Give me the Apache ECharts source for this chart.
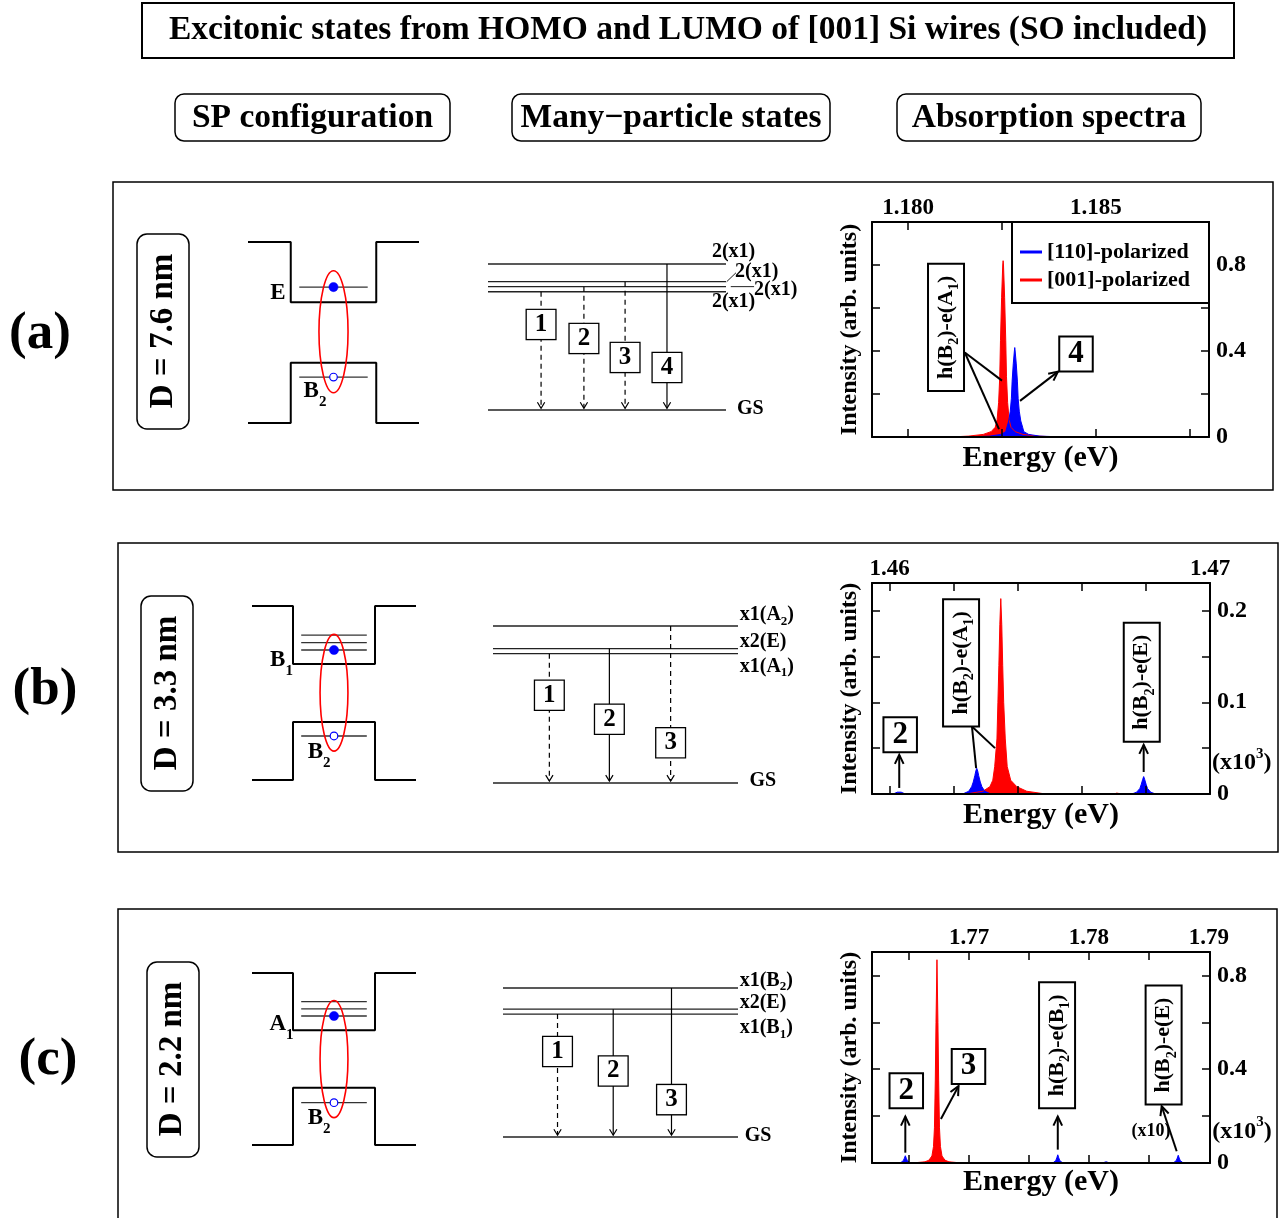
<!DOCTYPE html>
<html>
<head>
<meta charset="utf-8">
<title>Excitonic states from HOMO and LUMO of [001] Si wires</title>
<script src="https://cdn.jsdelivr.net/npm/echarts@6.0.0/dist/echarts.min.js"></script>
<style>
html,body{margin:0;padding:0;background:#fff;}
#chart{width:1288px;height:1218px;}
</style>
</head>
<body>
<div id="chart"></div>
<script>
// ===================== DATA =====================
// Absorption spectra: [energy (eV), intensity (arb. units)]
const specA_red = [[1.17904,0],[1.18112,0],[1.18160,0.004],[1.18200,0.012],[1.18221,0.025],[1.18232,0.045],[1.18237,0.08],[1.18241,0.16],[1.18244,0.28],[1.18246,0.45],[1.18249,0.65],[1.18252,0.80],[1.18253,0.82],[1.18254,0.80],[1.18257,0.65],[1.18260,0.45],[1.18262,0.28],[1.18265,0.16],[1.18269,0.08],[1.18274,0.045],[1.18285,0.025],[1.18306,0.012],[1.18346,0.004],[1.18399,0],[1.18801,0]];
const specA_blue = [[1.17904,0],[1.18164,0],[1.18217,0.004],[1.18247,0.012],[1.18260,0.025],[1.18263,0.045],[1.18268,0.075],[1.18272,0.12],[1.18275,0.18],[1.18277,0.26],[1.18280,0.34],[1.18283,0.40],[1.18284,0.416],[1.18285,0.40],[1.18288,0.34],[1.18291,0.26],[1.18293,0.18],[1.18296,0.12],[1.18300,0.075],[1.18305,0.045],[1.18308,0.025],[1.18321,0.012],[1.18351,0.004],[1.18417,0],[1.18801,0]];
const specB_red = [[1.45945,0],[1.46238,0],[1.46291,0.003],[1.46313,0.008],[1.46322,0.015],[1.46328,0.03],[1.46335,0.06],[1.46338,0.1],[1.46341,0.14],[1.46344,0.185],[1.46347,0.213],[1.46350,0.185],[1.46353,0.14],[1.46356,0.1],[1.46361,0.06],[1.46367,0.03],[1.46378,0.015],[1.46397,0.008],[1.46428,0.003],[1.46487,0],[1.46700,0],[1.46709,0.001],[1.46712,0.002],[1.46715,0.001],[1.46724,0],[1.47,0]];
const specB_blue = [[1.45945,0],[1.46011,0],[1.46024,0.002],[1.46030,0.0036],[1.46036,0.002],[1.46049,0],[1.46228,0],[1.46247,0.003],[1.46256,0.008],[1.46261,0.013],[1.46266,0.02],[1.46269,0.025],[1.46272,0.028],[1.46275,0.025],[1.46278,0.02],[1.46283,0.013],[1.46288,0.008],[1.46297,0.003],[1.46316,0],[1.46756,0],[1.46771,0.002],[1.46781,0.006],[1.46785,0.01],[1.46790,0.016],[1.46793,0.019],[1.46796,0.016],[1.46801,0.01],[1.46805,0.006],[1.46815,0.002],[1.46830,0],[1.47,0]];
const specC_red = [[1.7619,0],[1.76524,0],[1.76632,0.005],[1.76665,0.012],[1.76690,0.03],[1.76703,0.07],[1.76711,0.15],[1.76718,0.35],[1.76724,0.6],[1.76732,0.867],[1.76740,0.6],[1.76746,0.35],[1.76753,0.15],[1.76761,0.07],[1.76774,0.03],[1.76799,0.012],[1.76832,0.005],[1.76940,0],[1.7901,0]];
const specC_blue = [[1.7619,0],[1.76426,0],[1.76451,0.01],[1.76460,0.02],[1.76468,0.031],[1.76476,0.02],[1.76485,0.01],[1.76510,0],[1.77698,0],[1.77723,0.01],[1.77732,0.022],[1.7774,0.035],[1.77748,0.022],[1.77757,0.01],[1.77782,0],[1.78110,0],[1.78143,0.005],[1.78176,0],[1.78703,0],[1.78728,0.01],[1.78737,0.021],[1.78745,0.033],[1.78753,0.021],[1.78762,0.01],[1.78787,0],[1.7901,0]];

// Axis ranges, ticks and tick labels
const xRangeA = [1.17904, 1.18801], yRangeA = [0, 1.0];
const xTicksA = [1.18, 1.1825, 1.185, 1.1875], xLabelsA = [1.18, 1.185];
const yTicksA = [0.2, 0.4, 0.6, 0.8], yLabelsA = [0, 0.4, 0.8];
const xRangeB = [1.45945, 1.47], yRangeB = [0, 0.23];
const xTicksB = [1.46, 1.462, 1.464, 1.466, 1.468], xLabelsB = [1.46, 1.47];
const yTicksB = [0.05, 0.1, 0.15, 0.2], yLabelsB = [0, 0.1, 0.2];
const xRangeC = [1.7619, 1.7901], yRangeC = [0, 0.9];
const xTicksC = [1.765, 1.77, 1.775, 1.78, 1.785], xLabelsC = [1.77, 1.78, 1.79];
const yTicksC = [0.2, 0.4, 0.6, 0.8], yLabelsC = [0, 0.4, 0.8];

// Spectrum annotations in data coordinates
const annBoxesA = [[1.18101, 0.51, 'h(B_2)-e(A_1)', 90], [1.18447, 0.386, '4', 0]];
const annLinesA = [[1.18151, 0.393, 1.18250, 0.262], [1.18151, 0.393, 1.18242, 0.037]];
const annArrowsA = [[1.18298, 0.168, 1.18399, 0.304]];
const annTextsA = [];
const annBoxesB = [[1.46033, 0.0645, '2', 0], [1.46223, 0.143, 'h(B_2)-e(A_1)', 90], [1.46787, 0.1219, 'h(B_2)-e(E)', 90]];
const annLinesB = [[1.46257, 0.0736, 1.46270, 0.0281], [1.46257, 0.0736, 1.46329, 0.050]];
const annArrowsB = [[1.46030, 0.0066, 1.46030, 0.0426], [1.46793, 0.024, 1.46793, 0.0536]];
const annTextsB = [[1.47099, 0.0339, '(x10^3)']];
const annBoxesC = [[1.76476, 0.308, '2', 0], [1.76995, 0.412, '3', 0], [1.77734, 0.502, 'h(B_2)-e(B_1)', 90], [1.78623, 0.503, 'h(B_2)-e(E)', 90]];
const annLinesC = [];
const annArrowsC = [[1.76468, 0.044, 1.76468, 0.198], [1.76765, 0.188, 1.76912, 0.328], [1.7774, 0.057, 1.7774, 0.198], [1.78732, 0.050, 1.78607, 0.242]];
const annTextsC = [[1.78518, 0.135, '(x10)'], [1.79276, 0.135, '(x10^3)']];

// SP configuration (schematic, normalised energy 0..1)
const wellCB = [[0, 1], [0.25, 1], [0.25, 0.667], [0.75, 0.667], [0.75, 1], [1, 1]];
const wellVB = [[0, 0], [0.25, 0], [0.25, 0.333], [0.75, 0.333], [0.75, 0], [1, 0]];
const spCB_A = [0.751], spVB_A = [0.254], spNames_A = ['E', 'B_2'], spNamePos_A = [[0.175, 0.718], [0.392, 0.177]];
const spCB_B = [0.833, 0.789, 0.747], spVB_B = [0.253], spNames_B = ['B_1', 'B_2'], spNamePos_B = [[0.180, 0.690], [0.409, 0.161]];
const spCB_C = [0.833, 0.791, 0.750], spVB_C = [0.246], spNames_C = ['A_1', 'B_2'], spNamePos_C = [[0.180, 0.703], [0.409, 0.157]];

// Many-particle states (schematic, GS = 0, highest state = 1)
const mpLevelsA = [1, 0.879, 0.845, 0.810];
const mpLabelsA = ['2(x1)', '2(x1)', '2(x1)', '2(x1)'];
const mpLabelPosA = [[0.941, 1.084], [1.038, 0.947], [1.118, 0.822], [0.941, 0.740]];
const mpConnA = [[[1.003, 0.879], [1.042, 0.940]], [[1.020, 0.845], [1.118, 0.845]]];
const mpTransXA = [0.223, 0.403, 0.576, 0.752], mpTransFromA = [3, 2, 1, 0], mpDarkA = [1, 1, 1, 0];
const mpBoxYA = [0.586, 0.490, 0.360, 0.291], mpGSPosA = [1.046, 0.007];

const mpLevelsB = [1, 0.856, 0.824];
const mpLabelsB = ['x1(A_2)', 'x2(E)', 'x1(A_1)'];
const mpLabelPosB = [[1.007, 1.068], [1.007, 0.896], [1.007, 0.739]];
const mpConnB = [];
const mpTransXB = [0.230, 0.475, 0.725], mpTransFromB = [2, 1, 0], mpDarkB = [1, 0, 1];
const mpBoxYB = [0.559, 0.406, 0.256], mpGSPosB = [1.047, 0.017];

const mpLevelsC = [1, 0.858, 0.825];
const mpLabelsC = ['x1(B_2)', 'x2(E)', 'x1(B_1)'];
const mpLabelPosC = [[1.007, 1.051], [1.007, 0.899], [1.007, 0.730]];
const mpConnC = [];
const mpTransXC = [0.232, 0.469, 0.717], mpTransFromC = [2, 1, 0], mpDarkC = [1, 0, 0];
const mpBoxYC = [0.574, 0.443, 0.251], mpGSPosC = [1.029, 0.005];

// ===================== RENDERING =====================
const FONT = '"Liberation Serif","Times New Roman",Times,serif';
const RED = '#ff0000', BLUE = '#0000ff';

function toRich(s) {
  let out = '';
  const re = /_(.)|\^(.)|([^_^]+)/g; let m;
  while ((m = re.exec(s))) {
    if (m[1] !== undefined) out += '{s|' + m[1] + '}';
    else if (m[2] !== undefined) out += '{p|' + m[2] + '}';
    else out += '{m|' + m[3] + '}';
  }
  return out;
}
function richStyles(fs, subK) {
  const base = {fontFamily: FONT, fontWeight: 'bold', fill: '#000'};
  const ss = Math.round(fs * 0.64);
  return {
    m: Object.assign({}, base, {fontSize: fs, lineHeight: fs}),
    s: Object.assign({}, base, {fontSize: ss, lineHeight: fs, padding: [Math.round(fs * (subK || 0.7)), 0, 0, 0]}),
    p: Object.assign({}, base, {fontSize: ss, lineHeight: fs, padding: [0, 0, Math.round(fs * 0.75), 0]})
  };
}

function textEl(px, py, it) {
  const st = {
    text: toRich(it.t), rich: richStyles(it.fs, it.subK), x: 0, y: 0,
    align: it.align || 'center', textAlign: it.align || 'center',
    verticalAlign: 'middle', textVerticalAlign: 'middle'
  };
  if (it.box) {
    st.backgroundColor = '#fff'; st.borderColor = '#000'; st.borderWidth = it.bw || 2; st.padding = it.pad;
  }
  return {type: 'text', x: px, y: py, rotation: (it.rot || 0) * Math.PI / 180, style: st, z2: 10};
}

function renderer(items) {
  return function (params, api) {
    const it = items[params.dataIndex];
    const c = p => api.coord(p);
    if (it.k === 'poly') {
      const st = {stroke: it.color || '#000', lineWidth: it.w || 1.5, fill: 'none'};
      if (it.dash) st.lineDash = [5, 4];
      return {type: 'polyline', shape: {points: it.p.map(c)}, style: st};
    }
    if (it.k === 'arrow') {
      const a = c(it.p[0]), b = c(it.p[1]);
      const ang = Math.atan2(b[1] - a[1], b[0] - a[0]);
      const L = it.head || 10, W = it.hw || 0.5;
      const h1 = [b[0] - L * Math.cos(ang - W), b[1] - L * Math.sin(ang - W)];
      const h2 = [b[0] - L * Math.cos(ang + W), b[1] - L * Math.sin(ang + W)];
      const ls = {stroke: '#000', lineWidth: it.w || 2};
      if (it.dash) ls.lineDash = [5, 4];
      return {type: 'group', children: [
        {type: 'line', shape: {x1: a[0], y1: a[1], x2: b[0], y2: b[1]}, style: ls},
        {type: 'polyline', shape: {points: [h1, b, h2]}, style: {stroke: '#000', lineWidth: it.w || 2, fill: 'none'}}
      ]};
    }
    if (it.k === 'text') {
      const p = c(it.at);
      return textEl(p[0], p[1], it);
    }
    if (it.k === 'ellipse') {
      const a = c(it.p[0]), b = c(it.p[1]);
      return {type: 'ellipse', shape: {cx: (a[0] + b[0]) / 2, cy: (a[1] + b[1]) / 2, rx: Math.abs(b[0] - a[0]) / 2, ry: Math.abs(b[1] - a[1]) / 2},
        style: {stroke: RED, lineWidth: 1.6, fill: 'none'}};
    }
    if (it.k === 'dot') {
      const p = c(it.at);
      return {type: 'circle', shape: {cx: p[0], cy: p[1], r: 4.6}, style: {fill: BLUE, stroke: BLUE, lineWidth: 0.5}};
    }
    if (it.k === 'hole') {
      const p = c(it.at);
      return {type: 'circle', shape: {cx: p[0], cy: p[1], r: 3.8}, style: {fill: '#fff', stroke: BLUE, lineWidth: 1.2}};
    }
    return null;
  };
}

function customSeries(xi, yi, items) {
  return {
    type: 'custom', coordinateSystem: 'cartesian2d', xAxisIndex: xi, yAxisIndex: yi,
    clip: false, silent: true, animation: false, z: 12,
    data: items.map(it => (it.p ? it.p[0] : it.at).slice()),
    renderItem: renderer(items)
  };
}

const grids = [], xAxes = [], yAxes = [], series = [];
function hiddenGrid(rect) {
  grids.push(Object.assign({containLabel: false, outerBoundsMode: 'none'}, rect));
  const gi = grids.length - 1;
  xAxes.push({type: 'value', gridIndex: gi, min: 0, max: 1, show: false});
  yAxes.push({type: 'value', gridIndex: gi, min: 0, max: 1, show: false});
  return [xAxes.length - 1, yAxes.length - 1];
}

function spPanel(rect, cb, vb, names, namePos) {
  const [xi, yi] = hiddenGrid(rect);
  [wellCB, wellVB].forEach(w => series.push({
    type: 'line', xAxisIndex: xi, yAxisIndex: yi, data: w, symbol: 'none', silent: true,
    lineStyle: {color: '#000', width: 2}, z: 5, clip: false
  }));
  const items = [];
  cb.concat(vb).forEach(y => items.push({k: 'poly', p: [[0.3, y], [0.7, y]], w: 1.3, color: '#333'}));
  const e = Math.min.apply(null, cb), h = Math.max.apply(null, vb);
  items.push({k: 'ellipse', p: [[0.415, h - 0.087], [0.585, e + 0.09]]});
  items.push({k: 'dot', at: [0.5, e]});
  items.push({k: 'hole', at: [0.5, h]});
  names.forEach((t, i) => items.push({k: 'text', at: namePos[i], t: t, fs: 23, subK: 0.95}));
  series.push(customSeries(xi, yi, items));
}

function mpPanel(rect, levels, labels, labelPos, conns, trX, trFrom, dark, boxY, gsPos) {
  const [xi, yi] = hiddenGrid(rect);
  const items = [];
  items.push({k: 'poly', p: [[0, 0], [1, 0]], w: 1.5, color: '#222'});
  levels.forEach(y => items.push({k: 'poly', p: [[0, y], [1, y]], w: 1.4, color: '#222'}));
  conns.forEach(cn => items.push({k: 'poly', p: cn, w: 1, color: '#222'}));
  trX.forEach((x, i) => items.push({k: 'arrow', p: [[x, levels[trFrom[i]]], [x, 0.012]], dash: !!dark[i], w: 1.2, head: 7, hw: 0.55}));
  trX.forEach((x, i) => items.push({k: 'text', at: [x, boxY[i]], t: String(i + 1), fs: 25, box: true, bw: 1.3, pad: [2, 8]}));
  labels.forEach((t, i) => items.push({k: 'text', at: labelPos[i], t: t, fs: 20, subK: 0.6, align: 'left'}));
  items.push({k: 'text', at: gsPos, t: 'GS', fs: 20, align: 'left'});
  series.push(customSeries(xi, yi, items));
}

function specPanel(rect, xr, yr, xTicks, xLabels, xDec, yTicks, yLabels, nameGapX, red, blue, names, boxes, lines, arrows, texts) {
  grids.push(Object.assign({containLabel: false, outerBoundsMode: 'none'}, rect));
  const gi = grids.length - 1;
  const axLine = {show: true, onZero: false, lineStyle: {color: '#000', width: 2}};
  const tick = vals => ({show: true, inside: true, length: 8, customValues: vals, lineStyle: {color: '#000', width: 1.5}});
  const lab = {fontFamily: FONT, fontWeight: 'bold', color: '#000'};
  const xb = xAxes.length;
  xAxes.push({type: 'value', gridIndex: gi, position: 'bottom', min: xr[0], max: xr[1], z: 10,
    axisLine: axLine, axisTick: tick(xTicks), axisLabel: {show: false}, splitLine: {show: false},
    name: 'Energy (eV)', nameLocation: 'middle', nameGap: nameGapX, nameTextStyle: Object.assign({fontSize: 30}, lab)});
  xAxes.push({type: 'value', gridIndex: gi, position: 'top', min: xr[0], max: xr[1], z: 10,
    axisLine: axLine, axisTick: tick(xTicks), splitLine: {show: false},
    axisLabel: Object.assign({show: true, customValues: xLabels, formatter: v => v.toFixed(xDec), margin: 2, fontSize: 23}, lab)});
  const yl = yAxes.length;
  yAxes.push({type: 'value', gridIndex: gi, position: 'left', min: yr[0], max: yr[1], z: 10,
    axisLine: axLine, axisTick: tick(yTicks), axisLabel: {show: false}, splitLine: {show: false},
    name: 'Intensity (arb. units)', nameLocation: 'middle', nameRotate: 90, nameGap: 10, nameTextStyle: Object.assign({fontSize: 24}, lab)});
  yAxes.push({type: 'value', gridIndex: gi, position: 'right', min: yr[0], max: yr[1], z: 10,
    axisLine: axLine, axisTick: tick(yTicks), splitLine: {show: false},
    axisLabel: Object.assign({show: true, customValues: yLabels, formatter: v => v === 0 ? '0' : v.toFixed(1), margin: 7, fontSize: 24}, lab)});
  [[red, RED, names[0]], [blue, BLUE, names[1]]].forEach(([d, col, nm]) => series.push({
    type: 'line', name: nm, xAxisIndex: xb, yAxisIndex: yl, data: d, symbol: 'none', showSymbol: false,
    smooth: false, silent: true, z: 3, lineStyle: {color: col, width: 1}, itemStyle: {color: col},
    areaStyle: {color: col, opacity: 1}
  }));
  const items = [];
  lines.forEach(l => items.push({k: 'poly', p: [[l[0], l[1]], [l[2], l[3]]], w: 2}));
  arrows.forEach(a => items.push({k: 'arrow', p: [[a[0], a[1]], [a[2], a[3]]], w: 2, head: 10, hw: 0.45}));
  boxes.forEach(b => {
    const num = /^\d$/.test(b[2]);
    items.push({k: 'text', at: [b[0], b[1]], t: b[2], rot: b[3], box: true, bw: 2,
      fs: num ? 31 : 22, pad: num ? [1, 8] : [6, 11], subK: 0.75});
  });
  texts.forEach(t => items.push({k: 'text', at: [t[0], t[1]], t: t[2], fs: t[2] === '(x10)' ? 18 : 24}));
  series.push(customSeries(xb, yl, items));
}

// --- Panels ---
spPanel({left: 248, top: 242, width: 171, height: 181}, spCB_A, spVB_A, spNames_A, spNamePos_A);
spPanel({left: 252, top: 606, width: 164, height: 174}, spCB_B, spVB_B, spNames_B, spNamePos_B);
spPanel({left: 252, top: 973, width: 164, height: 172}, spCB_C, spVB_C, spNames_C, spNamePos_C);

mpPanel({left: 488, top: 264, width: 238, height: 146}, mpLevelsA, mpLabelsA, mpLabelPosA, mpConnA, mpTransXA, mpTransFromA, mpDarkA, mpBoxYA, mpGSPosA);
mpPanel({left: 493, top: 626, width: 245, height: 157}, mpLevelsB, mpLabelsB, mpLabelPosB, mpConnB, mpTransXB, mpTransFromB, mpDarkB, mpBoxYB, mpGSPosB);
mpPanel({left: 503, top: 988, width: 235, height: 149}, mpLevelsC, mpLabelsC, mpLabelPosC, mpConnC, mpTransXC, mpTransFromC, mpDarkC, mpBoxYC, mpGSPosC);

specPanel({left: 872, top: 222, width: 337, height: 215}, xRangeA, yRangeA, xTicksA, xLabelsA, 3, yTicksA, yLabelsA, 6,
  specA_red, specA_blue, ['[001]-polarized', '[110]-polarized'], annBoxesA, annLinesA, annArrowsA, annTextsA);
specPanel({left: 872, top: 583, width: 338, height: 211}, xRangeB, yRangeB, xTicksB, xLabelsB, 2, yTicksB, yLabelsB, 6,
  specB_red, specB_blue, ['b: [001]', 'b: [110]'], annBoxesB, annLinesB, annArrowsB, annTextsB);
specPanel({left: 872, top: 952, width: 338, height: 211}, xRangeC, yRangeC, xTicksC, xLabelsC, 2, yTicksC, yLabelsC, 4,
  specC_red, specC_blue, ['c: [001]', 'c: [110]'], annBoxesC, annLinesC, annArrowsC, annTextsC);

// --- Frame / headings (layout) ---
const G = [];
function gRect(x, y, w, h, r, lw, fill, z) {
  G.push({type: 'rect', z: z || 1, silent: true, shape: {x: x, y: y, width: w, height: h, r: r || 0},
    style: {fill: fill || 'none', stroke: '#000', lineWidth: lw}});
}
function gText(x, y, t, fs, rot) {
  G.push({type: 'text', z: 30, silent: true, x: x, y: y, rotation: rot || 0,
    style: {text: t, fontSize: fs, fontWeight: 'bold', fontFamily: FONT, fill: '#000',
      align: 'center', textAlign: 'center', verticalAlign: 'middle', textVerticalAlign: 'middle'}});
}
gRect(142, 3, 1092, 55, 0, 2);
gText(688, 30, 'Excitonic states from HOMO and LUMO of [001] Si wires (SO included)', 33.5);
gRect(175, 94, 275, 47, 9, 1.5); gText(312.5, 118, 'SP configuration', 33.5);
gRect(512, 94, 318, 47, 9, 1.5); gText(671, 118, 'Many\u2212particle states', 33.5);
gRect(897, 94, 304, 47, 9, 1.5); gText(1049, 118, 'Absorption spectra', 33.5);
gRect(113, 182, 1160, 308, 0, 1.5);
gRect(118, 543, 1160, 309, 0, 1.5);
gRect(118, 909, 1159, 320, 0, 1.5);
gText(40, 334, '(a)', 53); gText(45, 690, '(b)', 53); gText(48, 1060, '(c)', 53);
gRect(137, 234, 52, 195, 10, 1.5); gText(163, 331, 'D = 7.6 nm', 33, Math.PI / 2);
gRect(141, 596, 52, 195, 10, 1.5); gText(167, 693, 'D = 3.3 nm', 33, Math.PI / 2);
gRect(147, 962, 52, 195, 10, 1.5); gText(172.5, 1059, 'D = 2.2 nm', 33, Math.PI / 2);
gRect(1012, 222, 197, 81, 0, 2, '#fff', 15);

const chart = echarts.init(document.getElementById('chart'), null, {renderer: 'canvas', width: 1288, height: 1218});
chart.setOption({
  animation: false,
  backgroundColor: '#fff',
  textStyle: {fontFamily: FONT},
  grid: grids, xAxis: xAxes, yAxis: yAxes, series: series,
  legend: {data: ['[110]-polarized', '[001]-polarized'], orient: 'vertical', left: 1020, top: 241, padding: 0,
    itemGap: 6, itemWidth: 22, itemHeight: 3, icon: 'rect', selectedMode: false, z: 20,
    textStyle: {fontFamily: FONT, fontWeight: 'bold', fontSize: 22, color: '#000', lineHeight: 22}},
  graphic: G
});
</script>
</body>
</html>
